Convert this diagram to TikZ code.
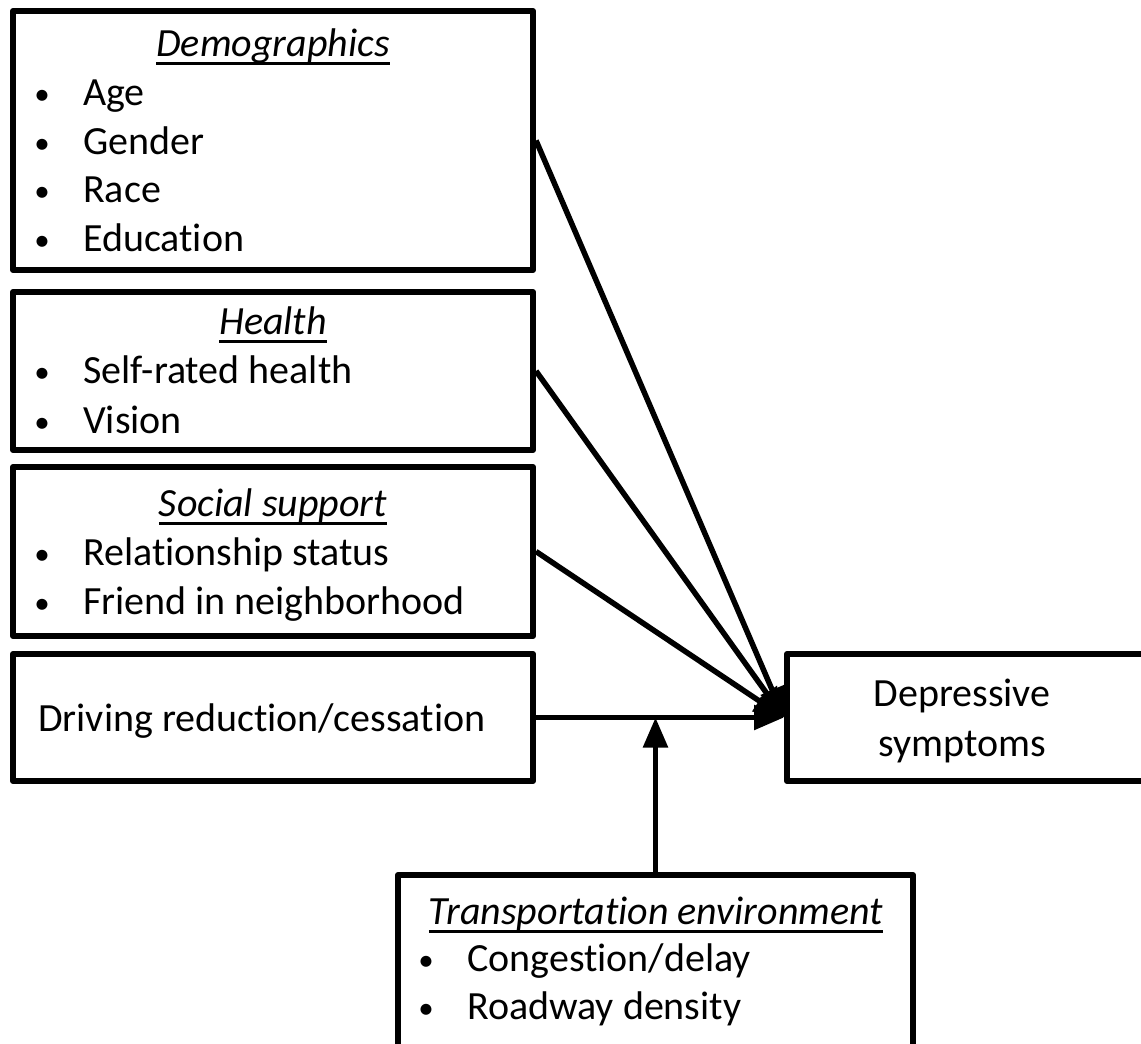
\documentclass[tikz,border=0pt]{standalone}
\usepackage{fontspec}
\setmainfont[Ligatures={NoCommon}]{Carlito}
\usetikzlibrary{arrows.meta}
\newcommand\myul[1]{\begingroup\setbox0\hbox{#1}\rlap{\vrule width \wd0 height -5.5pt depth 8.5pt}\box0\endgroup}
\begin{document}
\begin{tikzpicture}[x=1pt,y=-1pt,
  box/.style={draw, line width=6pt, line join=round, inner sep=0pt},
  txt/.style={inner sep=0pt, anchor=base west, font=\fontsize{40}{48}\selectfont},
  bul/.style={inner sep=0pt, anchor=base, font=\fontsize{40}{48}\selectfont},
  dot/.style={inner sep=0pt, anchor=base, font=\fontsize{31}{48}\selectfont},
  ttl/.style={inner sep=0pt, anchor=base, font=\fontsize{40}{48}\selectfont\itshape},
  conn/.style={line width=5.5pt, -{Triangle[length=30pt,width=24pt]}}]
\useasboundingbox (0,0) rectangle (1141,1044);
% boxes
\node[box, minimum width=520pt, minimum height=259pt] (demo) at (273,140.5) {};
\node[box, minimum width=520pt, minimum height=158pt] (hlth) at (273,371) {};
\node[box, minimum width=520pt, minimum height=169pt] (soc) at (273,551.5) {};
\node[box, minimum width=520pt, minimum height=127pt] (drv) at (273,717.5) {};
\node[box, minimum width=363pt, minimum height=127pt] (dep) at (968.5,717.5) {};
\node[box, minimum width=515pt, minimum height=195pt] (trans) at (655.5,972.5) {};
% demographics text
\node[ttl] (demoT) at (273,56) {\myul{Demographics}};
\node[dot] (demoB1) at (42,104) {•};
\node[txt] (demo1) at (83,105) {Age};
\node[dot] (demoB2) at (42,153) {•};
\node[txt] (demo2) at (83,154) {Gender};
\node[dot] (demoB3) at (42,201) {•};
\node[txt] (demo3) at (83,202) {Race};
\node[dot] (demoB4) at (42,250) {•};
\node[txt] (demo4) at (83,251) {Education};
% health
\node[ttl] (hlthT) at (273,334) {\myul{Health}};
\node[dot] (hlthB1) at (42,382) {•};
\node[txt] (hlth1) at (83,383) {Self-rated health};
\node[dot] (hlthB2) at (42,432) {•};
\node[txt] (hlth2) at (83,433) {Vision};
% social
\node[ttl] (socT) at (273,516) {\myul{Social support}};
\node[dot] (socB1) at (42,564) {•};
\node[txt] (soc1) at (83,565) {Relationship status};
\node[dot] (socB2) at (42,613) {•};
\node[txt] (soc2) at (83,614) {Friend in neighborhood};
% driving
\node[txt] (drvT) at (38,731) {Driving reduction/cessation};
% depressive
\node[bul] (dep1) at (962,706) {Depressive};
\node[bul] (dep2) at (962,756) {symptoms};
% transport
\node[ttl] (transT) at (656,924) {\myul{Transportation environment}};
\node[dot] (transB1) at (426,970) {•};
\node[txt] (trans1) at (467,971) {Congestion/delay};
\node[dot] (transB2) at (426,1018) {•};
\node[txt] (trans2) at (467,1019) {Roadway density};
% connectors
\draw[conn] (demo.east) -- (dep.west);
\draw[conn] (hlth.east) -- (dep.west);
\draw[conn] (soc.east) -- (dep.west);
\draw[conn] (drv.east) -- (dep.west);
\coordinate (mod) at (trans.north |- drv.east);
\draw[conn] (trans.north) -- (mod);
\end{tikzpicture}
\end{document}
